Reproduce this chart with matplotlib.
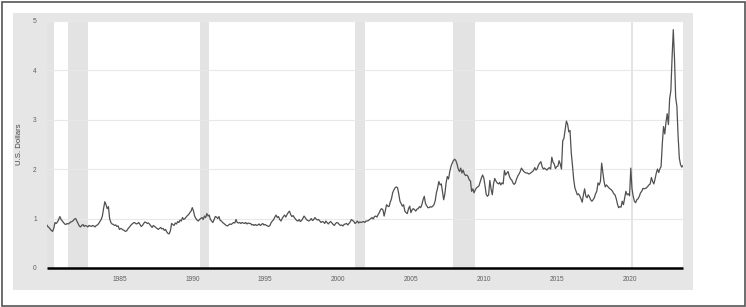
import numpy as np
import pandas as pd
import matplotlib
matplotlib.use("Agg")
import matplotlib.pyplot as plt
import matplotlib.dates as mdates
from matplotlib.patches import Rectangle

# monthly average price, one row per year (Jan..Dec)
prices_by_year = {
    1980: [0.88, 0.84, 0.82, 0.79, 0.76, 0.74, 0.80, 0.92, 0.90, 0.93, 0.98, 1.04],
    1981: [0.98, 0.95, 0.92, 0.89, 0.88, 0.90, 0.89, 0.91, 0.93, 0.94, 0.96, 0.99],
    1982: [1.00, 0.95, 0.90, 0.85, 0.83, 0.86, 0.88, 0.84, 0.86, 0.85, 0.83, 0.86],
    1983: [0.85, 0.84, 0.86, 0.85, 0.83, 0.86, 0.87, 0.90, 0.94, 0.98, 1.05, 1.20],
    1984: [1.34, 1.28, 1.20, 1.24, 1.00, 0.92, 0.89, 0.88, 0.86, 0.87, 0.84, 0.85],
    1985: [0.78, 0.80, 0.79, 0.77, 0.76, 0.74, 0.75, 0.79, 0.82, 0.85, 0.88, 0.90],
    1986: [0.92, 0.91, 0.89, 0.90, 0.92, 0.88, 0.84, 0.86, 0.90, 0.93, 0.92, 0.90],
    1987: [0.91, 0.88, 0.85, 0.82, 0.86, 0.84, 0.82, 0.80, 0.78, 0.80, 0.82, 0.79],
    1988: [0.80, 0.76, 0.78, 0.73, 0.70, 0.69, 0.75, 0.90, 0.88, 0.86, 0.91, 0.89],
    1989: [0.94, 0.92, 0.97, 0.95, 1.02, 0.98, 1.00, 1.03, 1.06, 1.08, 1.12, 1.15],
    1990: [1.22, 1.15, 1.05, 1.00, 0.97, 0.95, 0.98, 1.00, 1.02, 0.98, 1.05, 1.02],
    1991: [1.10, 1.05, 1.07, 0.98, 0.95, 0.92, 0.98, 1.04, 1.03, 1.00, 1.04, 0.96],
    1992: [0.95, 0.92, 0.90, 0.88, 0.86, 0.85, 0.87, 0.89, 0.88, 0.90, 0.92, 0.91],
    1993: [0.98, 0.92, 0.91, 0.92, 0.90, 0.92, 0.91, 0.90, 0.92, 0.89, 0.91, 0.90],
    1994: [0.90, 0.87, 0.88, 0.86, 0.88, 0.86, 0.87, 0.89, 0.86, 0.88, 0.90, 0.87],
    1995: [0.88, 0.86, 0.85, 0.84, 0.86, 0.92, 0.95, 0.98, 1.03, 1.07, 1.02, 1.04],
    1996: [0.98, 0.95, 1.00, 1.04, 1.07, 1.03, 1.08, 1.12, 1.15, 1.08, 1.04, 1.06],
    1997: [1.02, 0.99, 0.96, 0.95, 0.98, 0.94, 0.96, 1.00, 1.05, 1.02, 0.98, 0.96],
    1998: [0.95, 0.97, 1.00, 0.96, 0.98, 1.02, 0.99, 0.97, 0.98, 0.95, 0.92, 0.94],
    1999: [0.93, 0.90, 0.95, 0.92, 0.89, 0.92, 0.94, 0.91, 0.88, 0.86, 0.90, 0.92],
    2000: [0.91, 0.88, 0.86, 0.87, 0.85, 0.88, 0.89, 0.90, 0.87, 0.90, 0.93, 0.98],
    2001: [0.96, 0.94, 0.90, 0.92, 0.95, 0.91, 0.93, 0.92, 0.93, 0.94, 0.92, 0.95],
    2002: [0.95, 0.96, 0.98, 1.00, 1.02, 0.99, 1.04, 1.05, 1.03, 1.08, 1.12, 1.18],
    2003: [1.20, 1.17, 1.05, 1.16, 1.28, 1.25, 1.24, 1.33, 1.40, 1.52, 1.58, 1.62],
    2004: [1.64, 1.62, 1.50, 1.35, 1.30, 1.25, 1.28, 1.15, 1.12, 1.10, 1.20, 1.25],
    2005: [1.12, 1.18, 1.20, 1.18, 1.15, 1.19, 1.20, 1.24, 1.22, 1.28, 1.38, 1.45],
    2006: [1.30, 1.26, 1.22, 1.22, 1.24, 1.23, 1.25, 1.28, 1.36, 1.52, 1.62, 1.75],
    2007: [1.68, 1.70, 1.55, 1.38, 1.50, 1.72, 1.85, 1.80, 1.95, 2.05, 2.12, 2.17],
    2008: [2.20, 2.17, 2.10, 2.00, 1.95, 2.02, 1.92, 1.98, 1.90, 1.87, 1.88, 1.85],
    2009: [1.78, 1.76, 1.55, 1.60, 1.52, 1.58, 1.62, 1.64, 1.66, 1.74, 1.82, 1.88],
    2010: [1.82, 1.66, 1.49, 1.45, 1.48, 1.77, 1.60, 1.48, 1.70, 1.81, 1.76, 1.72],
    2011: [1.70, 1.73, 1.68, 1.72, 1.70, 1.97, 1.88, 1.92, 1.95, 1.86, 1.80, 1.78],
    2012: [1.72, 1.69, 1.72, 1.80, 1.86, 1.90, 1.95, 2.02, 1.98, 1.95, 1.93, 1.92],
    2013: [1.92, 1.90, 1.91, 1.93, 1.95, 1.97, 2.03, 1.98, 2.01, 2.08, 2.12, 2.15],
    2014: [2.05, 2.00, 2.02, 2.00, 1.98, 2.01, 2.03, 2.00, 2.24, 2.14, 2.10, 2.01],
    2015: [2.05, 2.06, 2.17, 2.10, 2.00, 2.57, 2.62, 2.80, 2.97, 2.91, 2.75, 2.78],
    2016: [2.33, 2.07, 1.80, 1.62, 1.55, 1.48, 1.50, 1.46, 1.40, 1.33, 1.48, 1.60],
    2017: [1.45, 1.42, 1.48, 1.44, 1.38, 1.35, 1.38, 1.42, 1.50, 1.55, 1.72, 1.68],
    2018: [1.75, 2.12, 1.95, 1.75, 1.64, 1.68, 1.65, 1.62, 1.60, 1.58, 1.55, 1.50],
    2019: [1.48, 1.40, 1.30, 1.22, 1.24, 1.23, 1.35, 1.28, 1.42, 1.55, 1.48, 1.50],
    2020: [1.46, 2.02, 1.61, 1.45, 1.35, 1.32, 1.38, 1.40, 1.45, 1.52, 1.55, 1.61],
    2021: [1.60, 1.61, 1.62, 1.65, 1.68, 1.70, 1.83, 1.75, 1.70, 1.80, 1.92, 2.00],
    2022: [1.93, 2.01, 2.05, 2.52, 2.86, 2.71, 2.94, 3.12, 2.90, 3.42, 3.59, 4.25],
    2023: [4.82, 4.21, 3.45, 3.27, 2.67, 2.22, 2.09, 2.04, 2.07],
}

recession_start = ["1980-01-01", "1981-07-01", "1990-07-01", "2001-03-01", "2007-12-01", "2020-02-01"]
recession_end = ["1980-07-01", "1982-11-01", "1991-03-01", "2001-11-01", "2009-06-01", "2020-04-01"]

y_ticks = [0, 1, 2, 3, 4, 5]
x_tick_years = [1985, 1990, 1995, 2000, 2005, 2010, 2015, 2020]

values = [v for yr in sorted(prices_by_year) for v in prices_by_year[yr]]
dates = pd.date_range("1980-01-01", periods=len(values), freq="MS")

plt.rcParams['font.family'] = ['Liberation Sans', 'DejaVu Sans']

W, H = 746, 307
fig = plt.figure(figsize=(W / 100, H / 100), dpi=100)

# outer frame and grey panel
fig.patches.append(Rectangle((1.5 / W, 1.5 / H), (W - 3) / W, (H - 3) / H, transform=fig.transFigure,
                             facecolor="white", edgecolor="#555555", linewidth=1.2, zorder=-2))
fig.patches.append(Rectangle((13 / W, (H - 290) / H), (693 - 13) / W, (290 - 13) / H, transform=fig.transFigure,
                             facecolor="#e6e6e6", edgecolor="none", zorder=-1))

ax = fig.add_axes([46.5 / W, (H - 268) / H, (683 - 46.5) / W, (268 - 20.7) / H])
ax.set_zorder(2)
ax.set_facecolor("white")

for s, e in zip(recession_start, recession_end):
    ax.axvspan(pd.Timestamp(s), pd.Timestamp(e), color="#e3e3e3", lw=0, zorder=0.5)

ax.plot(dates, values, color="#505050", lw=0.9, zorder=3)

ax.set_xlim(dates[0], dates[-1])
ax.set_ylim(0, 5)
ax.set_yticks(y_ticks)
ax.set_xticks([pd.Timestamp(f"{y}-01-01") for y in x_tick_years])
ax.xaxis.set_major_formatter(mdates.DateFormatter("%Y"))

ax.grid(axis="y", color="#e8e8e8", lw=0.8, zorder=1)
ax.axhline(0, color="black", lw=1.8, zorder=4, clip_on=False, solid_capstyle="butt")

for sp in ax.spines.values():
    sp.set_visible(False)
ax.tick_params(length=0, labelsize=4.8, labelcolor="#606060")
ax.tick_params(axis="x", pad=6)
ax.tick_params(axis="y", pad=7)

ax.set_ylabel("U.S. Dollars", fontsize=5.6, color="#444444", labelpad=7)

fig.savefig("out.png", dpi=100)
